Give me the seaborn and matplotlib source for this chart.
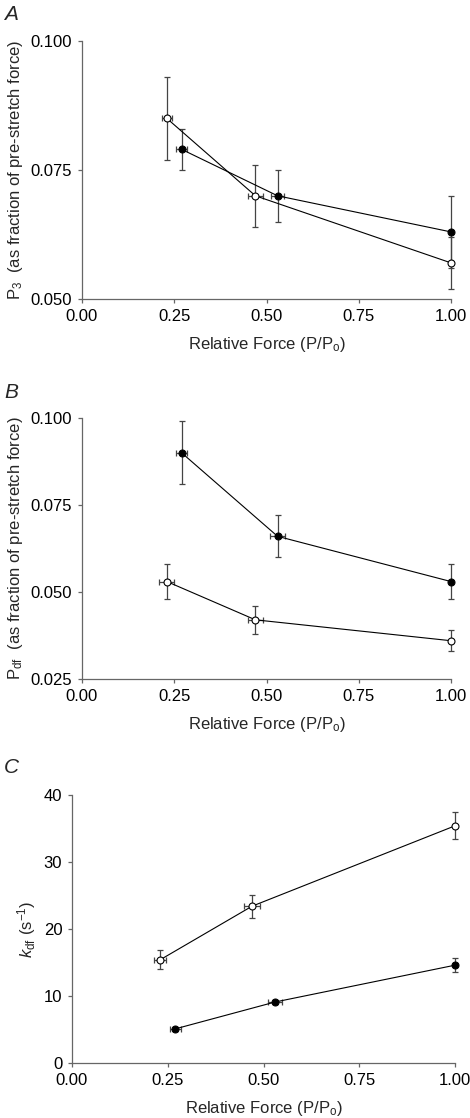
import numpy as np
import pandas as pd
import matplotlib
matplotlib.use("Agg")
import matplotlib.pyplot as plt
import seaborn as sns

# Panel A: P3
a_filled_x = [0.27, 0.53, 1.00]
a_filled_y = [0.079, 0.070, 0.063]
a_filled_yerr = [0.004, 0.005, 0.007]
a_filled_xerr = [0.014, 0.017, 0.0]
a_open_x = [0.23, 0.47, 1.00]
a_open_y = [0.085, 0.070, 0.057]
a_open_yerr = [0.008, 0.006, 0.005]
a_open_xerr = [0.014, 0.02, 0.0]

# Panel B: Pdf
b_filled_x = [0.27, 0.53, 1.00]
b_filled_y = [0.090, 0.066, 0.053]
b_filled_yerr = [0.009, 0.006, 0.005]
b_filled_xerr = [0.014, 0.02, 0.0]
b_open_x = [0.23, 0.47, 1.00]
b_open_y = [0.053, 0.042, 0.036]
b_open_yerr = [0.005, 0.004, 0.003]
b_open_xerr = [0.02, 0.02, 0.0]

# Panel C: kdf
c_filled_x = [0.27, 0.53, 1.00]
c_filled_y = [5.1, 9.1, 14.6]
c_filled_yerr = [0.3, 0.3, 1.0]
c_filled_xerr = [0.014, 0.017, 0.0]
c_open_x = [0.23, 0.47, 1.00]
c_open_y = [15.4, 23.4, 35.4]
c_open_yerr = [1.4, 1.7, 2.0]
c_open_xerr = [0.016, 0.02, 0.0]

x_ticks = [0.00, 0.25, 0.50, 0.75, 1.00]
x_label = "Relative Force (P/P$_\\mathrm{o}$)"

sns.set_theme(style="ticks")
plt.rcParams['font.family'] = ['Liberation Sans', 'DejaVu Sans']
plt.rcParams['mathtext.fontset'] = 'custom'
plt.rcParams['mathtext.rm'] = 'Liberation Sans'
plt.rcParams['mathtext.it'] = 'Liberation Sans:italic'
plt.rcParams['mathtext.bf'] = 'Liberation Sans:bold'

W, H = 470, 1118
fig = plt.figure(figsize=(W / 100, H / 100), dpi=100)


def make_axes(left, right, top, bottom):
    return fig.add_axes([left / W, 1 - bottom / H, (right - left) / W, (bottom - top) / H])


def draw_series(ax, x, y, xerr, yerr, face):
    eb = ax.errorbar(x, y, xerr=xerr, yerr=yerr, fmt='none', ecolor='#444444',
                     elinewidth=0.9, capsize=2.5, capthick=0.9, zorder=2)
    # let the bars at x = 1.00 spill over the axes edge like the original
    for art in eb.lines[1] + eb.lines[2]:
        art.set_clip_on(False)
    df = pd.DataFrame({'x': x, 'y': y})
    sns.lineplot(data=df, x='x', y='y', ax=ax, color='black', lw=0.8, sort=False,
                 marker='o', markersize=5, markerfacecolor=face,
                 markeredgecolor='black', markeredgewidth=0.8, zorder=3,
                 clip_on=False)


def style_axes(ax, ylim, yticks, yfmt, ylabel):
    ax.set_xlim(0, 1)
    ax.set_ylim(*ylim)
    ax.set_xticks(x_ticks)
    ax.set_xticklabels([f"{t:.2f}" for t in x_ticks])
    ax.set_yticks(yticks)
    ax.set_yticklabels([yfmt.format(t) for t in yticks])
    sns.despine(ax=ax)
    for s in ['left', 'bottom']:
        ax.spines[s].set_color('#666666')
        ax.spines[s].set_linewidth(0.9)
    ax.tick_params(direction='out', length=3, width=0.9, color='#666666',
                   labelsize=12, labelcolor='black', pad=4)
    ax.set_xlabel(x_label, fontsize=12, labelpad=8)
    ax.set_ylabel(ylabel, fontsize=12, labelpad=4)


# Panel A
ax_a = make_axes(82, 451, 41, 299)
draw_series(ax_a, a_filled_x, a_filled_y, a_filled_xerr, a_filled_yerr, 'black')
draw_series(ax_a, a_open_x, a_open_y, a_open_xerr, a_open_yerr, 'white')
style_axes(ax_a, (0.05, 0.10), [0.050, 0.075, 0.100], "{:.3f}",
           "P$_3$  (as fraction of pre-stretch force)")
fig.text(4 / W, 1 - 20 / H, "A", fontsize=15, style='italic')

# Panel B
ax_b = make_axes(82, 451, 418, 679)
draw_series(ax_b, b_filled_x, b_filled_y, b_filled_xerr, b_filled_yerr, 'black')
draw_series(ax_b, b_open_x, b_open_y, b_open_xerr, b_open_yerr, 'white')
style_axes(ax_b, (0.025, 0.10), [0.025, 0.050, 0.075, 0.100], "{:.3f}",
           "P$_\\mathrm{df}$  (as fraction of pre-stretch force)")
fig.text(4 / W, 1 - 398 / H, "B", fontsize=15, style='italic')

# Panel C
ax_c = make_axes(72, 455, 795, 1063)
draw_series(ax_c, c_filled_x, c_filled_y, c_filled_xerr, c_filled_yerr, 'black')
draw_series(ax_c, c_open_x, c_open_y, c_open_xerr, c_open_yerr, 'white')
style_axes(ax_c, (0, 40), [0, 10, 20, 30, 40], "{:.0f}",
           "$k_\\mathrm{df}$ (s$^{-1}$)")
fig.text(4 / W, 1 - 773 / H, "C", fontsize=15, style='italic')

fig.savefig("out.png", dpi=100)
